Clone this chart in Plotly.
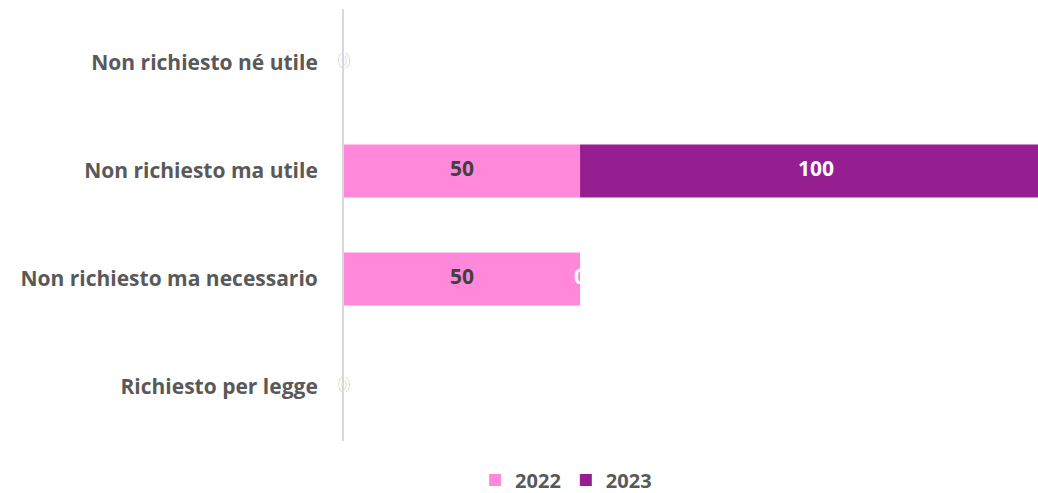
import plotly.graph_objects as go

categories = ["Richiesto per legge", "Non richiesto ma necessario", "Non richiesto ma utile", "Non richiesto né utile"]
values_2022 = [0, 50, 50, 0]
values_2023 = [0, 0, 100, 0]
series_names = ["2022", "2023"]
colors = ["#FF88DA", "#951F91"]
label_colors = ["#404040", "#FFFFFF"]

FONT = "Open Sans"

fig = go.Figure()
series = [values_2022, values_2023]
base = [0] * len(categories)
for name, vals, col, lc in zip(series_names, series, colors, label_colors):
    fig.add_trace(go.Bar(
        y=categories, x=vals, base=base, orientation="h", name=name,
        marker=dict(color=col, line=dict(width=0)), width=0.49,
    ))
    mids = [b + v / 2 for b, v in zip(base, vals)]
    fig.add_trace(go.Scatter(
        y=categories, x=mids, mode="text", text=[str(v) for v in vals],
        textposition="middle center", showlegend=False, cliponaxis=False,
        textfont=dict(family=FONT, size=21, color=lc, weight="bold"), hoverinfo="skip",
    ))
    base = [b + v for b, v in zip(base, vals)]

fig.update_layout(
    barmode="overlay",
    width=1038, height=493,
    margin=dict(l=344, r=0, t=9, b=52, autoexpand=False),
    plot_bgcolor="white", paper_bgcolor="white",
    font=dict(family=FONT, size=21, color="#595959"),
    xaxis=dict(range=[0, 147], showgrid=False, showticklabels=False, zeroline=False,
               showline=False, fixedrange=True, automargin=False),
    yaxis=dict(categoryorder="array", categoryarray=categories, showgrid=False,
               showline=True, linecolor="#D9D9D9", linewidth=2, automargin=False,
               ticks="", ticklabelstandoff=20,
               tickfont=dict(family=FONT, size=21, color="#595959", weight="bold")),
    legend=dict(orientation="h", x=0.32, xanchor="center", y=-0.045, yanchor="top",
                font=dict(family=FONT, size=20, color="#595959", weight="bold"),
                itemwidth=30, traceorder="normal"),
    showlegend=True,
)
fig.write_html(
    "out.html",
    config={"displayModeBar": False},
    post_script="document.body.style.margin='0';document.body.style.overflow='hidden';",
)
